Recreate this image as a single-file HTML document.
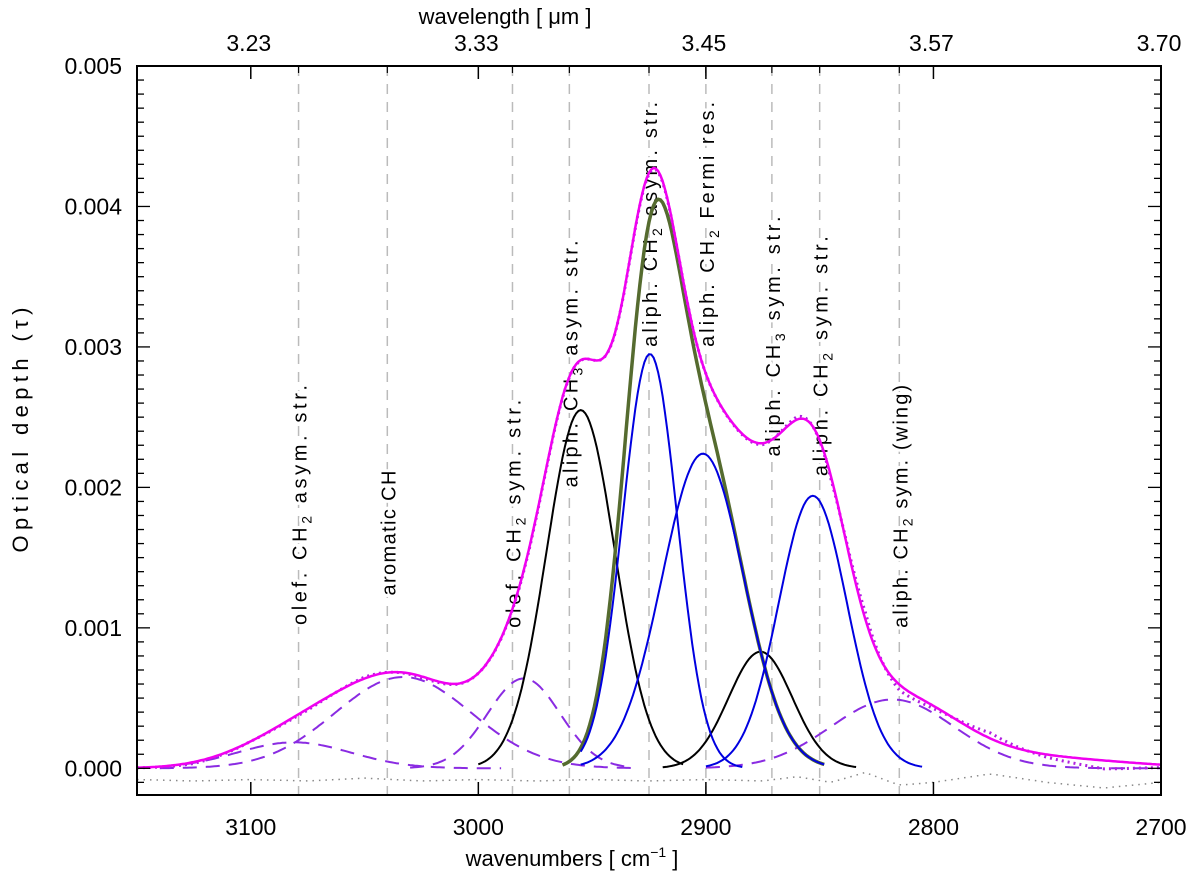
<!DOCTYPE html>
<html><head><meta charset="utf-8"><style>
html,body{margin:0;padding:0;background:#fff;}
svg{display:block;font-family:"Liberation Sans",sans-serif;}
</style></head><body>
<svg id="chart" width="1200" height="880" viewBox="0 0 1200 880" xmlns="http://www.w3.org/2000/svg">
<rect width="1200" height="880" fill="#fff"/>
<g id="plot"></g>
</svg>
<script>
// ---- data ----
const xTicks = [3100, 3000, 2900, 2800, 2700];
const xTickLabels = ["3100", "3000", "2900", "2800", "2700"];
const topTickLabels = ["3.23", "3.33", "3.45", "3.57", "3.70"];
const yTicks = [0, 0.001, 0.002, 0.003, 0.004, 0.005];
const yTickLabels = ["0.000", "0.001", "0.002", "0.003", "0.004", "0.005"];
const lineWavenumbers = [3079, 3040, 2985, 2960, 2925, 2900, 2871, 2850, 2815];
const lineLabels = ["olef. CH|2| asym. str.", "aromatic CH", "olef. CH|2| sym. str.", "aliph. CH|3| asym. str.", "aliph. CH|2| asym. str.", "aliph. CH|2| Fermi res.", "aliph. CH|3| sym. str.", "aliph. CH|2| sym. str.", "aliph. CH|2| sym. (wing)"];
const labelBottomTau = [0.00102, 0.00123, 0.00100, 0.00200, 0.00300, 0.00300, 0.00222, 0.00208, 0.00100];
// gaussian components: center (cm-1), amplitude (tau), sigma (cm-1), drawn range
const blackCenters = [2955, 2876];
const blackAmps = [0.00255, 0.00083];
const blackSigmas = [15, 14];
const blackRanges = [[3000, 2910], [2919, 2834]];
const blueCenters = [2924.6, 2901.3, 2853];
const blueAmps = [0.00295, 0.00224, 0.00194];
const blueSigmas = [12, 18, 15];
const blueRanges = [[2955, 2884], [2955, 2848], [2900, 2805]];
const purpleCenters = [3081, 3033, 2980, 2818];
const purpleAmps = [0.000185, 0.00065, 0.00064, 0.00049];
const purpleSigmas = [25, 30, 16, 27];
const purpleRanges = [[3150, 2990], [3140, 2930], [3030, 2935], [2900, 2700]];
const tailCenters = [2760];
const tailAmps = [0.00008];
const tailSigmas = [40];
const residualW = [3150,3125,3100,3075,3050,3025,3000,2975,2950,2925,2900,2875,2860,2845,2830,2815,2800,2775,2750,2725,2700];
const residualV = [-0.00008,-0.00009,-0.00008,-0.00009,-0.00007,-0.00009,-0.00008,-0.00009,-0.00008,-0.00009,-0.00008,-0.00009,-0.00006,-0.00010,-0.00003,-0.00012,-0.00010,-0.00004,-0.00010,-0.00014,-0.00010];

// ---- styling ----
const labelLengths = [240, 125, 228, 247, 245, 245, 240, 240, 243];

// ---- axes ----
const L=137,R=1161,T=66,B=795;
const W0=3150,W1=2700,Y0=-0.00019,Y1=0.005;
const sx=w=>L+(W0-w)*(R-L)/(W0-W1);
const sy=v=>B-(v-Y0)*(B-T)/(Y1-Y0);
const NS="http://www.w3.org/2000/svg";
const g=document.getElementById('plot');
function mk(tag,attrs,parent){const e=document.createElementNS(NS,tag);for(const k in attrs)e.setAttribute(k,attrs[k]);(parent||g).appendChild(e);return e;}
const gauss=(w,c,a,s)=>a*Math.exp(-0.5*((w-c)/s)**2);
function curve(fn,wa,wb,step){const pts=[];for(let w=wa;w>=wb-1e-9;w-=step){pts.push(sx(w).toFixed(1)+","+sy(fn(w)).toFixed(1));}return pts.join(" ");}
const clip=mk('clipPath',{id:'pc'});mk('rect',{x:L,y:T,width:R-L,height:B-T},clip);
function interp(w,ws,vs){for(let i=0;i<ws.length-1;i++){if(w<=ws[i]&&w>=ws[i+1]){const t=(ws[i]-w)/(ws[i]-ws[i+1]);return vs[i]+t*(vs[i+1]-vs[i]);}}return vs[vs.length-1];}

// dashed vertical lines
lineWavenumbers.forEach((w,i)=>{
  const l=mk('line',{x1:sx(w),x2:sx(w),y1:T,y2:B,stroke:'#bbb','stroke-width':1.5,'stroke-dasharray':'10,8'});
  
  
});
// labels (below curves)
lineLabels.forEach((t,i)=>{
  const x=sx(lineWavenumbers[i])+8,y=sy(labelBottomTau[i]);
  const tx=mk('text',{x:0,y:0,transform:`translate(${x},${y}) rotate(-90)`,'font-size':20,fill:'#000',stroke:'#fff','stroke-width':6,'paint-order':'stroke','stroke-linejoin':'round',textLength:labelLengths[i],lengthAdjust:'spacing'});
  const parts=t.split('|');
  parts.forEach((p,j)=>{const ts=mk('tspan',{},tx);if(j%2===1){ts.setAttribute('font-size',14);ts.setAttribute('dy',5);}else if(j>0){ts.setAttribute('dy',-5);}ts.textContent=p;});
  
  
});
const cg=mk('g',{'clip-path':'url(#pc)'});
function total(w){let s=0;
  blackCenters.forEach((c,i)=>s+=gauss(w,c,blackAmps[i],blackSigmas[i]));
  blueCenters.forEach((c,i)=>s+=gauss(w,c,blueAmps[i],blueSigmas[i]));
  purpleCenters.forEach((c,i)=>s+=gauss(w,c,purpleAmps[i],purpleSigmas[i]));
  tailCenters.forEach((c,i)=>s+=gauss(w,c,tailAmps[i],tailSigmas[i]));
  return s;}
const resBase=-0.00008;
let e=mk('polyline',{points:curve(w=>interp(w,residualW,residualV),3150,2700,2),fill:'none',stroke:'#888','stroke-width':1.5,'stroke-dasharray':'1.5,5'},cg);


purpleCenters.forEach((c,i)=>{
  const p=mk('polyline',{points:curve(w=>gauss(w,c,purpleAmps[i],purpleSigmas[i]),purpleRanges[i][0],purpleRanges[i][1],1),fill:'none',stroke:'#8a2be2','stroke-width':2,'stroke-dasharray':'14,9'},cg);
  
  
});
blackCenters.forEach((c,i)=>{
  const p=mk('polyline',{points:curve(w=>gauss(w,c,blackAmps[i],blackSigmas[i]),blackRanges[i][0],blackRanges[i][1],1),fill:'none',stroke:'#000','stroke-width':2},cg);
  
  
});
e=mk('polyline',{points:curve(w=>gauss(w,blueCenters[0],blueAmps[0],blueSigmas[0])+gauss(w,blueCenters[1],blueAmps[1],blueSigmas[1]),2963,2848,1),fill:'none',stroke:'#556b2f','stroke-width':3.5},cg);


blueCenters.forEach((c,i)=>{
  const p=mk('polyline',{points:curve(w=>gauss(w,c,blueAmps[i],blueSigmas[i]),blueRanges[i][0],blueRanges[i][1],1),fill:'none',stroke:'#0000e0','stroke-width':2},cg);
  
  
});
e=mk('polyline',{points:curve(w=>total(w)+(interp(w,residualW,residualV)-resBase),3150,2700,1),fill:'none',stroke:'#b020e0','stroke-width':3,'stroke-dasharray':'2,4'},cg);


e=mk('polyline',{points:curve(total,3150,2700,1),fill:'none',stroke:'#f000f0','stroke-width':2.5},cg);



// frame
e=mk('rect',{x:L,y:T,width:R-L,height:B-T,fill:'none',stroke:'#000','stroke-width':2});


xTicks.forEach((w,i)=>{
  mk('line',{x1:sx(w),x2:sx(w),y1:B,y2:B-13,stroke:'#000','stroke-width':1.5});
  mk('line',{x1:sx(w),x2:sx(w),y1:T,y2:T+13,stroke:'#000','stroke-width':1.5});
  const a=mk('text',{x:sx(w),y:835,'text-anchor':'middle','font-size':23});a.textContent=xTickLabels[i];
  
  
  const b=mk('text',{x:sx(w)-2,y:51,'text-anchor':'middle','font-size':23});b.textContent=topTickLabels[i];
  
  
});
lineWavenumbers.forEach(w=>mk('line',{x1:sx(w),x2:sx(w),y1:T,y2:T+7,stroke:'#000','stroke-width':1.2}));
for(let k=-1;k<=50;k++){const v=k*0.0001;if(v<Y0||v>Y1+1e-9)continue;const len=(k%10===0)?13:7;
  mk('line',{x1:L,x2:L+len,y1:sy(v),y2:sy(v),stroke:'#000','stroke-width':1.3});
  mk('line',{x1:R,x2:R-len,y1:sy(v),y2:sy(v),stroke:'#000','stroke-width':1.3});}
yTicks.forEach((v,i)=>{const a=mk('text',{x:122,y:sy(v)+8,'text-anchor':'end','font-size':23});a.textContent=yTickLabels[i];
  
  });
e=mk('text',{x:0,y:0,transform:'translate(28,430) rotate(-90)','text-anchor':'middle','font-size':22,textLength:245,lengthAdjust:'spacing'});e.textContent='Optical depth (τ)';


e=mk('text',{x:572,y:866,'text-anchor':'middle','font-size':22});e.innerHTML='wavenumbers [ cm<tspan font-size="14" dy="-9">−1</tspan><tspan dy="9"> ]</tspan>';


e=mk('text',{x:505,y:24,'text-anchor':'middle','font-size':22});e.textContent='wavelength [ μm ]';


</script>
</body></html>
